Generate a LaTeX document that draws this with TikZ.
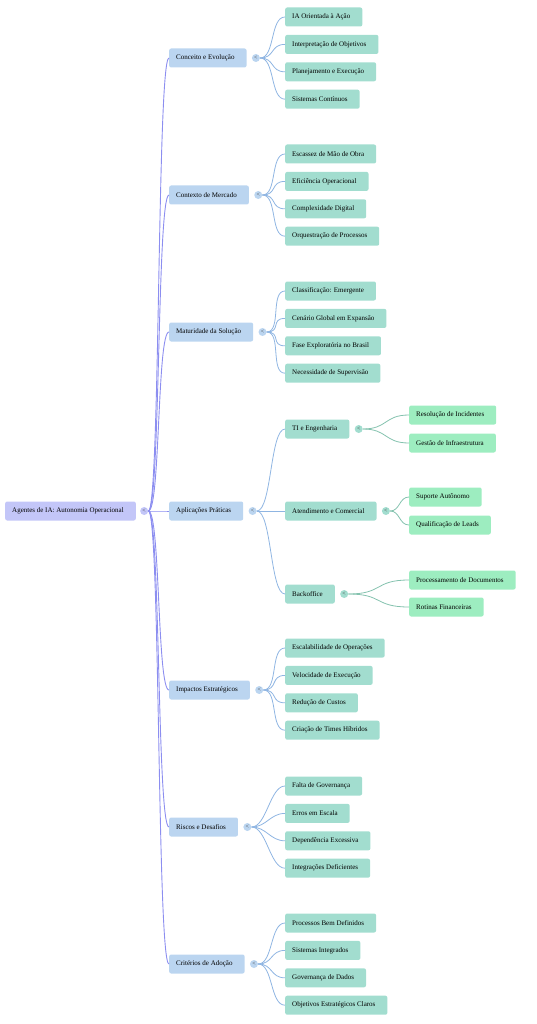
\documentclass[tikz,border=0pt]{standalone}
\usepackage{fontspec}
\setmainfont{Liberation Serif}
\usetikzlibrary{positioning}

\definecolor{rootfill}{HTML}{C3C6F8}
\definecolor{topicfill}{HTML}{BBD5F0}
\definecolor{leaffill}{HTML}{A2DDCF}
\definecolor{greenfill}{HTML}{9DEDC0}
\definecolor{rootline}{HTML}{8C8EF0}
\definecolor{topicline}{HTML}{8FB5E2}
\definecolor{leafline}{HTML}{84C2AE}

\begin{document}
\begin{tikzpicture}[x=1pt,y=-1pt,
  box/.style={rounded corners=2pt, anchor=west, minimum height=19pt,
    inner xsep=7pt, inner ysep=0pt, font=\fontsize{7}{8}\selectfont,
    execute at end node=\hspace{5pt}},
  rootbox/.style={box, fill=rootfill},
  topic/.style={box, fill=topicfill},
  leaf/.style={box, fill=leaffill},
  subleaf/.style={box, fill=greenfill},
  knob/.style={circle, inner sep=0pt, minimum size=8pt, text=black!75,
    font=\fontsize{6}{6}\selectfont},
  rootedge/.style={rootline, line width=0.9pt},
  topicedge/.style={topicline, line width=0.8pt},
  leafedge/.style={leafline, line width=0.8pt}]
  \useasboundingbox (0,0) rectangle (537,1024);

  % root
  \node[rootbox] (root) at (5,511) {Agentes de IA: Autonomia Operacional};
  \node[knob, fill=rootfill, right=4pt of root] (rk) {<};

  % main topics
  \node[topic] (t1) at (169,58) {Conceito e Evolução};
  \node[topic] (t2) at (169,195) {Contexto de Mercado};
  \node[topic] (t3) at (169,332) {Maturidade da Solução};
  \node[topic] (t4) at (169,511) {Aplicações Práticas};
  \node[topic] (t5) at (169,690) {Impactos Estratégicos};
  \node[topic] (t6) at (169,827) {Riscos e Desafios};
  \node[topic] (t7) at (169,964) {Critérios de Adoção};
  \foreach \i in {1,...,7}{
    \node[knob, fill=topicfill, right=5pt of t\i] (k\i) {<};
    \draw[rootedge] (rk.east) .. controls +(12,0) and +(-12,0) .. (t\i.west);
  }

  % leaves
  \foreach \txt [count=\i] in {IA Orientada à Ação, Interpretação de Objetivos,
      Planejamento e Execução, Sistemas Contínuos}{
    \node[leaf] (la\i) at (285,{17+27.4*(\i-1)}) {\txt};
    \draw[topicedge] (k1.east) .. controls +(15,0) and +(-15,0) .. (la\i.west);
  }
  \foreach \txt [count=\i] in {Escassez de Mão de Obra, Eficiência Operacional,
      Complexidade Digital, Orquestração de Processos}{
    \node[leaf] (lb\i) at (285,{154+27.4*(\i-1)}) {\txt};
    \draw[topicedge] (k2.east) .. controls +(15,0) and +(-15,0) .. (lb\i.west);
  }
  \foreach \txt [count=\i] in {Classificação: Emergente, Cenário Global em Expansão,
      Fase Exploratória no Brasil, Necessidade de Supervisão}{
    \node[leaf] (lc\i) at (285,{291+27.4*(\i-1)}) {\txt};
    \draw[topicedge] (k3.east) .. controls +(15,0) and +(-15,0) .. (lc\i.west);
  }
  \foreach \txt [count=\i] in {Escalabilidade de Operações, Velocidade de Execução,
      Redução de Custos, Criação de Times Híbridos}{
    \node[leaf] (le\i) at (285,{648+27.4*(\i-1)}) {\txt};
    \draw[topicedge] (k5.east) .. controls +(15,0) and +(-15,0) .. (le\i.west);
  }
  \foreach \txt [count=\i] in {Falta de Governança, Erros em Escala,
      Dependência Excessiva, Integrações Deficientes}{
    \node[leaf] (lf\i) at (285,{786+27.4*(\i-1)}) {\txt};
    \draw[topicedge] (k6.east) .. controls +(15,0) and +(-15,0) .. (lf\i.west);
  }
  \foreach \txt [count=\i] in {Processos Bem Definidos, Sistemas Integrados,
      Governança de Dados, Objetivos Estratégicos Claros}{
    \node[leaf] (lg\i) at (285,{923+27.4*(\i-1)}) {\txt};
    \draw[topicedge] (k7.east) .. controls +(15,0) and +(-15,0) .. (lg\i.west);
  }

  % applications
  \node[leaf] (s1) at (285,429) {TI e Engenharia};
  \node[leaf] (s2) at (285,511) {Atendimento e Comercial};
  \node[leaf] (s3) at (285,594) {Backoffice};
  \foreach \i in {1,2,3}{
    \node[knob, fill=leaffill, right=5pt of s\i] (sk\i) {<};
    \draw[topicedge] (k4.east) .. controls +(15,0) and +(-15,0) .. (s\i.west);
  }
  \node[subleaf] (g1) at (409,415) {Resolução de Incidentes};
  \node[subleaf] (g2) at (409,443) {Gestão de Infraestrutura};
  \node[subleaf] (g3) at (409,497) {Suporte Autônomo};
  \node[subleaf] (g4) at (409,525) {Qualificação de Leads};
  \node[subleaf] (g5) at (409,580) {Processamento de Documentos};
  \node[subleaf] (g6) at (409,607) {Rotinas Financeiras};
  \draw[leafedge] (sk1.east) .. controls +(25,0) and +(-25,0) .. (g1.west);
  \draw[leafedge] (sk1.east) .. controls +(25,0) and +(-25,0) .. (g2.west);
  \draw[leafedge] (sk2.east) .. controls +(10,0) and +(-10,0) .. (g3.west);
  \draw[leafedge] (sk2.east) .. controls +(10,0) and +(-10,0) .. (g4.west);
  \draw[leafedge] (sk3.east) .. controls +(35,0) and +(-35,0) .. (g5.west);
  \draw[leafedge] (sk3.east) .. controls +(35,0) and +(-35,0) .. (g6.west);
\end{tikzpicture}
\end{document}
